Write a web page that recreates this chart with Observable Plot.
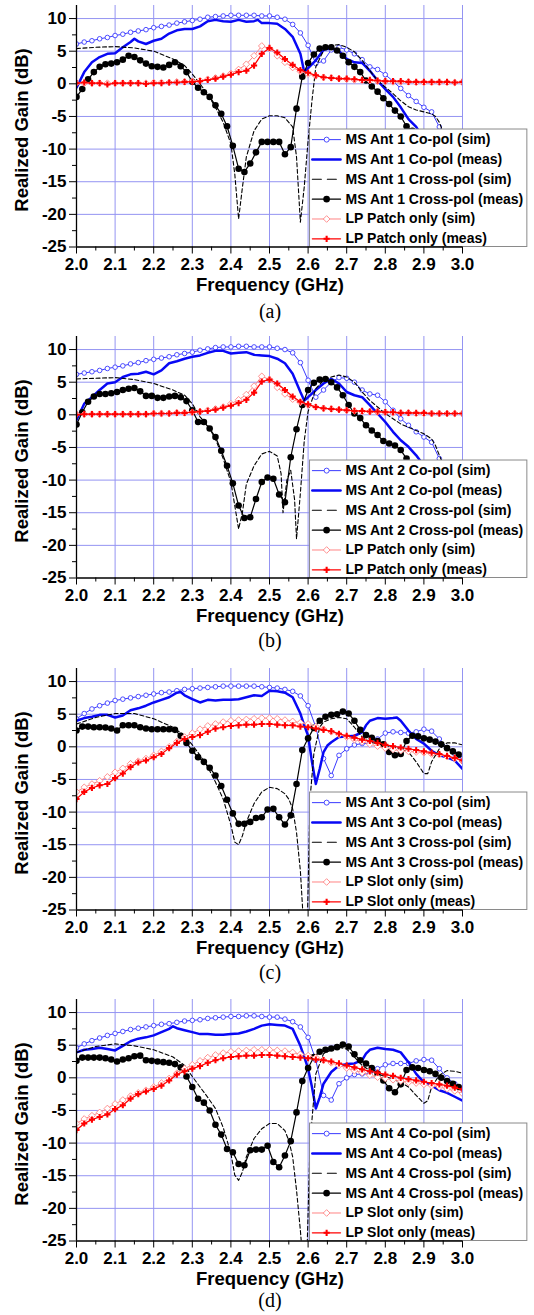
<!DOCTYPE html>
<html><head><meta charset="utf-8">
<script src="https://cdn.jsdelivr.net/npm/d3@7"></script>
<script src="https://cdn.jsdelivr.net/npm/@observablehq/plot@0.6"></script>
<style>
body{margin:0;background:#fff;}
#wrap{position:relative;width:534px;height:1315px;overflow:hidden;background:#fff;font-family:"Liberation Sans",Arial,sans-serif;}
.panel{position:absolute;left:0;}
.xt{position:absolute;font-weight:bold;font-size:18.5px;transform:translate(-50%,-50%);white-space:nowrap;color:#000;}
.yt{position:absolute;font-weight:bold;font-size:18.5px;transform:translate(-50%,-50%) rotate(-90deg);white-space:nowrap;color:#000;}
.cap{position:absolute;font-family:"Liberation Serif","Times New Roman",serif;font-size:20px;transform:translate(-50%,-50%);white-space:nowrap;color:#000;}
</style></head>
<body><div id="wrap"></div>
<script>
// ---------- axes / ticks ----------
const xTicks = [2.0,2.1,2.2,2.3,2.4,2.5,2.6,2.7,2.8,2.9,3.0];
const xMinor = [2.05,2.15,2.25,2.35,2.45,2.55,2.65,2.75,2.85,2.95];
const yTicks = [-25,-20,-15,-10,-5,0,5,10];
const yMinor = [-22.5,-17.5,-12.5,-7.5,-2.5,2.5,7.5];
const xGrid = [2.1,2.2,2.3,2.4,2.5,2.6,2.7,2.8,2.9,3.0];
const yGrid = [-20,-15,-10,-5,0,5,10];

// ---------- frequency grids (GHz) ----------
const F02 = [2.00,2.02,2.04,2.06,2.08,2.10,2.12,2.14,2.16,2.18,2.20,2.22,2.24,2.26,2.28,2.30,2.32,2.34,2.36,2.38,2.40,2.42,2.44,2.46,2.48,2.50,2.52,2.54,2.56,2.58,2.60,2.62,2.64,2.66,2.68,2.70,2.72,2.74,2.76,2.78,2.80,2.82,2.84,2.86,2.88,2.90,2.92,2.94,2.96,2.98,3.00];
const F15 = [2.000,2.015,2.030,2.045,2.060,2.075,2.090,2.105,2.120,2.135,2.150,2.165,2.180,2.195,2.210,2.225,2.240,2.255,2.270,2.285,2.300,2.315,2.330,2.345,2.360,2.375,2.390,2.405,2.420,2.435,2.450,2.465,2.480,2.495,2.510,2.525,2.540,2.555,2.570,2.585,2.600,2.615,2.630,2.645,2.660,2.675,2.690,2.705,2.720,2.735,2.750,2.765,2.780,2.795,2.810,2.825,2.840,2.855,2.870,2.885,2.900,2.915,2.930,2.945,2.960,2.975,2.990];

// ---------- panel (a) ----------
const a_labels = ["MS Ant 1 Co-pol (sim)","MS Ant 1 Co-pol (meas)","MS Ant 1 Cross-pol (sim)","MS Ant 1 Cross-pol (meas)","LP Patch only (sim)","LP Patch only (meas)"];
const a_coSim = [6.1,6.4,6.6,6.9,7.1,7.4,7.6,7.9,8.1,8.3,8.6,8.8,9.0,9.3,9.5,9.7,9.9,10.2,10.3,10.4,10.5,10.5,10.5,10.5,10.4,10.4,10.2,9.9,9.1,7.8,5.9,3.1,3.5,5.2,5.6,5.2,4.6,3.7,2.6,2.2,1.4,0.4,-0.7,-1.8,-2.7,-3.6,-4.3,-6.6,-10,-13,-15];
const a_coMeas = [[2.00,-0.6],[2.02,1.8],[2.04,3.3],[2.06,4.1],[2.08,4.6],[2.10,4.7],[2.12,5.6],[2.14,6.4],[2.15,6.9],[2.16,6.5],[2.18,6.1],[2.20,6.6],[2.22,6.9],[2.24,7.7],[2.26,8.2],[2.28,8.4],[2.30,8.4],[2.32,8.8],[2.34,9.6],[2.36,9.8],[2.38,9.6],[2.40,9.5],[2.42,9.8],[2.44,9.5],[2.46,9.6],[2.47,9.8],[2.48,9.3],[2.50,9.3],[2.52,9.2],[2.54,8.4],[2.56,7.2],[2.58,4.6],[2.59,1.8],[2.60,2.4],[2.62,3.6],[2.64,5.2],[2.66,5.5],[2.68,5.0],[2.70,3.8],[2.72,3.3],[2.74,3.2],[2.76,2.0],[2.78,0.5],[2.80,-0.8],[2.82,-2.0],[2.84,-3.6],[2.86,-5.4],[2.88,-6.6],[2.90,-8.5],[2.95,-12],[3.00,-15]];
const a_xpSim = [[2.00,5.4],[2.05,5.6],[2.10,5.7],[2.15,5.5],[2.20,5.0],[2.25,3.8],[2.28,2.8],[2.30,1.5],[2.32,0.0],[2.34,-1.6],[2.36,-3.6],[2.38,-5.9],[2.40,-9.2],[2.41,-13.8],[2.42,-20.7],[2.43,-15.8],[2.44,-11.2],[2.46,-7.2],[2.48,-5.4],[2.50,-4.9],[2.52,-4.9],[2.54,-5.2],[2.56,-6.6],[2.57,-11.2],[2.58,-21.2],[2.59,-15.8],[2.60,-8.7],[2.61,-2.6],[2.62,2.6],[2.64,5.1],[2.66,5.9],[2.68,6.0],[2.70,5.6],[2.72,4.9],[2.74,3.6],[2.76,2.0],[2.78,0.5],[2.80,-0.5],[2.82,-1.5],[2.84,-2.6],[2.86,-3.5],[2.88,-4.0],[2.90,-4.3],[2.92,-4.6],[2.93,-5.0],[2.94,-5.9],[2.96,-9],[3.00,-13]];
const a_xpMeas = [-2.0,-0.8,0.7,1.8,2.6,3.0,3.1,3.3,3.7,4.3,4.1,3.6,3.1,2.7,2.6,2.5,2.9,3.3,2.7,1.8,0.3,-0.6,-1.3,-2.0,-3.3,-4.6,-6.5,-9.5,-13.0,-13.5,-12.2,-10.5,-8.9,-8.9,-8.9,-8.9,-10.8,-9.7,-3.8,1.1,3.2,4.5,5.4,5.6,5.6,5.1,4.3,3.3,2.6,1.8,0.5,-0.4,-1.2,-2.2,-3.1,-4.1,-5.0,-6.5,-7.2,-8.5,-9.5,-10.5,-11.5,-12.3,-13.0,-13.7,-14.4];
const a_lpSim = [0.1,0.1,0.1,0.1,0.1,0.1,0.1,0.1,0.1,0.1,0.2,0.2,0.2,0.3,0.3,0.4,0.5,0.7,0.9,1.2,1.6,2.2,3.0,4.3,5.8,5.4,4.3,3.3,2.5,1.9,1.5,1.2,1.0,0.9,0.8,0.7,0.6,0.5,0.5,0.4,0.4,0.3,0.3,0.3,0.2,0.2,0.2,0.2,0.2,0.2,0.2];
const a_lpMeas = [0.1,0.2,0.1,0.1,-0.1,0.1,0.1,0.1,0.1,0.0,0.1,0.1,0.2,0.2,0.3,0.3,0.4,0.6,0.8,1.1,1.4,1.8,2.0,2.8,4.6,5.5,4.8,3.8,2.9,2.1,1.7,1.3,1.0,0.9,0.8,0.8,0.7,0.6,0.6,0.5,0.4,0.4,0.4,0.3,0.3,0.3,0.3,0.3,0.3,0.2,0.3];

// ---------- panel (b) ----------
const b_labels = ["MS Ant 2 Co-pol (sim)","MS Ant 2 Co-pol (meas)","MS Ant 2 Cross-pol (sim)","MS Ant 2 Cross-pol (meas)","LP Patch only (sim)","LP Patch only (meas)"];
const b_coSim = [6.2,6.4,6.6,6.8,7.1,7.3,7.5,7.8,8.0,8.3,8.5,8.7,8.9,9.2,9.4,9.6,9.9,10.1,10.3,10.4,10.4,10.5,10.5,10.4,10.4,10.4,10.2,10.0,9.5,8.0,5.3,2.7,3.8,5.0,5.7,5.6,5.0,3.8,3.2,3.0,2.0,0.7,-0.6,-1.6,-2.6,-3.4,-4.2,-6.7,-10,-12,-14];
const b_coMeas = [[2.00,-0.8],[2.02,1.7],[2.04,2.7],[2.06,3.8],[2.08,4.8],[2.10,5.0],[2.12,5.8],[2.14,6.2],[2.16,6.3],[2.18,6.6],[2.20,6.2],[2.22,6.8],[2.24,7.9],[2.26,8.2],[2.28,8.6],[2.30,8.9],[2.32,9.1],[2.34,9.5],[2.36,9.8],[2.38,9.8],[2.40,9.4],[2.42,9.5],[2.44,9.6],[2.46,9.2],[2.48,9.1],[2.50,9.0],[2.52,8.6],[2.54,7.9],[2.56,6.3],[2.58,3.5],[2.59,2.2],[2.60,2.7],[2.62,3.8],[2.64,4.8],[2.66,5.5],[2.68,4.8],[2.70,3.5],[2.72,3.0],[2.74,2.7],[2.76,1.5],[2.78,0.2],[2.80,-1.1],[2.82,-2.6],[2.84,-3.9],[2.86,-4.9],[2.88,-6.2],[2.90,-7.8],[2.95,-11],[3.00,-14]];
const b_xpSim = [[2.00,5.5],[2.05,5.6],[2.10,5.7],[2.15,5.4],[2.20,4.8],[2.25,3.8],[2.28,3.0],[2.30,1.7],[2.32,-0.3],[2.34,-1.6],[2.36,-3.7],[2.38,-6.7],[2.40,-10.3],[2.41,-13.9],[2.42,-17.5],[2.43,-14.9],[2.44,-10.6],[2.46,-7.8],[2.48,-6.0],[2.50,-5.6],[2.52,-6.3],[2.53,-9],[2.535,-15],[2.545,-10],[2.555,-8.5],[2.565,-13],[2.57,-19],[2.58,-12],[2.59,-4],[2.60,0.5],[2.62,4.0],[2.64,5.3],[2.66,5.8],[2.68,6.1],[2.70,5.8],[2.72,5.0],[2.74,3.5],[2.76,2.2],[2.78,1.2],[2.80,0.2],[2.82,-0.6],[2.84,-1.4],[2.86,-1.9],[2.88,-2.4],[2.90,-2.9],[2.92,-3.7],[2.93,-4.7],[2.94,-6.2],[2.96,-9],[3.00,-12]];
const b_xpMeas = [-1.5,0.4,2.0,2.8,3.2,3.2,3.3,3.5,3.8,4.0,4.1,3.6,2.9,2.9,2.6,2.6,2.8,2.9,2.7,2.1,0.7,-1.1,-1.1,-2.1,-3.4,-5.5,-7.8,-10.5,-13.9,-15.8,-15.7,-12.9,-10.3,-9.6,-9.8,-12.2,-13.4,-6.5,-2.2,1.5,3.8,4.9,5.4,5.5,5.0,4.2,3.0,1.5,0.2,-0.5,-1.6,-2.4,-3.1,-4.0,-4.4,-4.7,-5.4,-6.7,-8.0,-9.1,-10.2,-11.1,-12.0,-12.7,-13.5,-14.2,-14.8];
const b_lpSim = [0.1,0.1,0.1,0.1,0.1,0.1,0.1,0.1,0.1,0.1,0.2,0.2,0.2,0.3,0.3,0.4,0.5,0.7,0.9,1.2,1.7,2.3,3.1,4.4,5.9,5.4,4.2,3.2,2.4,1.9,1.5,1.2,1.0,0.9,0.8,0.7,0.6,0.5,0.5,0.4,0.4,0.3,0.3,0.3,0.2,0.2,0.2,0.2,0.2,0.2,0.2];
const b_lpMeas = [0.0,0.1,0.1,0.1,0.1,0.1,0.1,0.1,0.1,0.1,0.2,0.2,0.2,0.3,0.3,0.4,0.5,0.6,0.8,1.1,1.4,1.8,2.3,3.4,5.1,5.4,4.8,3.8,2.8,2.0,1.6,1.2,1.0,0.9,0.8,0.7,0.6,0.6,0.5,0.5,0.4,0.4,0.3,0.3,0.3,0.3,0.2,0.2,0.2,0.2,0.2];

// ---------- panel (c) ----------
const c_labels = ["MS Ant 3 Co-pol (sim)","MS Ant 3 Co-pol (meas)","MS Ant 3 Cross-pol (sim)","MS Ant 3 Cross-pol (meas)","LP Slot only (sim)","LP Slot only (meas)"];
const c_coSim = [4.3,5.1,5.8,6.3,6.7,7.1,7.3,7.5,7.7,7.9,8.1,8.3,8.4,8.6,8.8,8.9,9.0,9.1,9.2,9.3,9.3,9.3,9.3,9.3,9.2,9.1,9.0,8.8,8.5,7.8,6.3,3.0,-1.8,-4.4,-1.3,-0.3,0.3,0.5,0.5,1.2,2.1,2.3,2.2,2.1,2.3,2.7,2.4,1.2,-0.1,-1.1,-1.8];
const c_coMeas = [[2.00,4.0],[2.02,4.4],[2.04,4.6],[2.06,4.9],[2.08,4.9],[2.10,4.5],[2.12,4.8],[2.14,5.6],[2.16,5.9],[2.18,6.3],[2.20,6.8],[2.22,7.2],[2.24,7.6],[2.26,8.3],[2.27,8.4],[2.28,7.9],[2.30,7.3],[2.32,6.8],[2.34,7.2],[2.36,7.1],[2.38,7.2],[2.40,7.2],[2.42,7.3],[2.44,7.6],[2.46,7.9],[2.48,7.8],[2.50,8.6],[2.52,8.5],[2.54,8.3],[2.56,7.6],[2.58,5.1],[2.59,3.3],[2.60,1.7],[2.61,-2.3],[2.62,-5.7],[2.63,-3.4],[2.64,-0.8],[2.65,0.2],[2.66,0.7],[2.68,1.5],[2.70,1.6],[2.72,1.7],[2.74,2.2],[2.75,3.3],[2.76,4.0],[2.78,4.4],[2.80,4.3],[2.82,4.4],[2.83,4.5],[2.84,4.0],[2.86,2.5],[2.88,1.2],[2.90,0.5],[2.92,-0.6],[2.94,-1.3],[2.96,-1.6],[2.98,-2.1],[3.00,-3.4]];
const c_xpSim = [[2.00,3.5],[2.05,4.5],[2.10,5.1],[2.15,5.1],[2.20,4.3],[2.25,3.0],[2.28,1.7],[2.30,0.3],[2.32,-1.3],[2.34,-3.1],[2.36,-5.4],[2.38,-8.0],[2.40,-12.0],[2.41,-14.6],[2.42,-15.0],[2.43,-13.6],[2.44,-11.5],[2.46,-8.7],[2.48,-6.9],[2.50,-6.2],[2.52,-6.4],[2.54,-7.2],[2.55,-8.0],[2.56,-9.5],[2.57,-13.1],[2.58,-19],[2.588,-27],[2.598,-27],[2.605,-8],[2.615,-1],[2.63,3.0],[2.64,3.8],[2.66,4.3],[2.68,4.5],[2.70,4.3],[2.72,3.0],[2.74,1.5],[2.76,0.7],[2.78,0.5],[2.80,0.2],[2.82,0.0],[2.84,-0.3],[2.86,-0.8],[2.88,-2.3],[2.90,-4.1],[2.91,-4.1],[2.92,-2.3],[2.94,-0.3],[2.96,0.6],[2.98,0.6],[3.00,0.3]];
const c_xpMeas = [2.5,3.1,3.1,3.0,3.0,2.95,2.8,2.5,3.3,3.3,3.3,3.0,2.8,2.7,2.7,2.7,2.7,2.6,1.7,0.6,-0.6,-1.6,-2.3,-3.2,-4.4,-6.0,-8.1,-10.2,-11.8,-11.8,-11.5,-10.9,-10.8,-9.6,-9.5,-10.8,-11.9,-10.5,-5.7,-0.5,1.3,2.9,4.0,4.6,4.9,5.0,5.4,5.1,4.0,2.6,1.8,1.4,0.9,0.4,-0.8,-1.3,-1.1,0.9,1.7,1.6,1.3,1.1,0.8,0.4,-0.2,-0.7,-1.2];
const c_lpSim = [-6.9,-6.2,-5.7,-5.2,-4.6,-3.9,-3.3,-2.6,-2.2,-1.8,-1.3,-0.7,0.0,0.8,1.5,2.1,2.7,3.2,3.5,3.8,4.0,4.1,4.2,4.3,4.4,4.4,4.3,4.1,3.9,3.7,3.5,3.1,2.7,2.3,1.9,1.5,1.1,0.8,0.4,0.1,-0.2,-0.4,-0.6,-0.7,-0.8,-0.9,-1.1,-1.2,-1.5,-1.8,-2.2];
const c_lpMeas = [-8.0,-6.9,-6.3,-5.9,-5.7,-4.8,-4.1,-3.1,-2.4,-2.1,-1.6,-1.1,-0.2,0.6,1.2,1.5,1.8,2.3,2.8,3.0,3.2,3.3,3.4,3.4,3.5,3.5,3.4,3.3,3.3,3.1,3.0,2.8,2.6,2.4,2.0,1.7,1.4,1.1,0.9,0.6,0.3,0.1,-0.1,-0.3,-0.5,-0.7,-0.9,-1.1,-1.4,-1.7,-2.1];

// ---------- panel (d) ----------
const d_labels = ["MS Ant 4 Co-pol (sim)","MS Ant 4 Co-pol (meas)","MS Ant 4 Cross-pol (sim)","MS Ant 4 Cross-pol (meas)","LP Slot only (sim)","LP Slot only (meas)"];
const d_coSim = [4.6,5.2,5.7,6.1,6.5,6.8,7.1,7.4,7.6,7.8,8.0,8.2,8.3,8.5,8.7,8.8,8.9,9.1,9.2,9.3,9.4,9.4,9.5,9.5,9.4,9.3,9.3,9.0,8.6,7.8,6.2,2.7,-2.7,-3.4,-0.9,0.0,0.5,0.6,0.6,1.4,2.0,2.2,2.2,2.2,2.6,2.8,2.7,1.4,0.0,-0.9,-1.7];
const d_coMeas = [[2.00,3.9],[2.02,4.3],[2.04,4.4],[2.06,4.6],[2.08,4.4],[2.10,4.2],[2.12,4.9],[2.14,5.6],[2.16,6.0],[2.18,6.2],[2.20,6.5],[2.22,7.0],[2.24,7.5],[2.25,7.9],[2.26,7.6],[2.28,7.3],[2.30,7.0],[2.32,6.7],[2.34,6.7],[2.36,6.6],[2.38,6.6],[2.40,6.7],[2.42,6.8],[2.44,7.1],[2.46,7.5],[2.48,8.0],[2.50,8.2],[2.52,8.1],[2.54,8.0],[2.56,7.5],[2.58,4.9],[2.59,3.2],[2.60,1.4],[2.61,-1.4],[2.62,-4.7],[2.63,-3.0],[2.64,-0.9],[2.66,0.9],[2.68,1.9],[2.70,2.1],[2.72,2.2],[2.74,2.7],[2.75,3.7],[2.76,4.3],[2.78,4.6],[2.80,4.4],[2.82,4.3],[2.84,3.9],[2.86,2.4],[2.88,0.6],[2.90,-0.7],[2.92,-1.2],[2.94,-1.9],[2.96,-2.3],[2.98,-2.9],[3.00,-3.5]];
const d_xpSim = [[2.00,3.9],[2.05,4.8],[2.10,5.2],[2.15,4.9],[2.20,4.3],[2.25,3.2],[2.28,1.9],[2.30,0.2],[2.32,-1.4],[2.34,-3.0],[2.36,-4.7],[2.38,-7.6],[2.40,-11.6],[2.41,-14.9],[2.42,-15.7],[2.43,-14.4],[2.44,-12.1],[2.46,-9.3],[2.48,-7.8],[2.50,-7.0],[2.52,-7.0],[2.54,-8.1],[2.55,-9.6],[2.56,-12.1],[2.57,-17.2],[2.58,-23.4],[2.585,-27],[2.597,-27],[2.605,-10],[2.62,0.6],[2.64,3.7],[2.66,4.3],[2.68,4.7],[2.70,4.4],[2.72,3.2],[2.74,1.9],[2.76,1.1],[2.78,0.6],[2.80,0.2],[2.82,-0.2],[2.84,-0.7],[2.86,-1.4],[2.88,-2.7],[2.90,-3.9],[2.91,-3.5],[2.92,-1.4],[2.94,0.4],[2.96,1.1],[2.98,1.0],[3.00,0.7]];
const d_xpMeas = [2.6,3.1,3.1,3.1,3.1,3.0,2.8,2.5,2.8,3.0,3.3,3.4,2.7,2.6,2.5,2.4,2.3,2.1,1.6,0.2,-1.4,-3.2,-3.8,-5.0,-7.2,-8.7,-10.9,-11.4,-13.2,-13.4,-11.1,-11.0,-11.0,-10.4,-12.9,-13.7,-11.9,-9.7,-5.3,-0.5,1.5,3.2,4.0,4.3,4.5,4.7,5.1,4.8,3.6,2.7,2.2,1.5,0.6,-0.4,-1.6,-2.2,-1.0,1.2,1.6,1.5,1.2,1.0,0.6,0.0,-0.5,-0.9,-1.4];
const d_lpSim = [-7.0,-6.3,-5.8,-5.3,-4.7,-4.0,-3.4,-2.8,-2.3,-1.9,-1.4,-0.8,-0.1,0.7,1.4,2.0,2.6,3.1,3.5,3.8,4.0,4.1,4.2,4.3,4.3,4.3,4.2,4.1,3.9,3.6,3.4,3.1,2.7,2.3,1.9,1.5,1.1,0.8,0.4,0.1,-0.1,-0.3,-0.5,-0.7,-0.8,-1.0,-1.2,-1.4,-1.7,-2.0,-2.4];
const d_lpMeas = [-8.0,-7.0,-6.4,-6.0,-5.6,-4.8,-4.2,-3.2,-2.5,-2.1,-1.7,-1.2,-0.4,0.5,1.0,1.4,1.8,2.3,2.7,3.0,3.2,3.3,3.4,3.4,3.5,3.5,3.4,3.3,3.2,3.1,3.0,2.8,2.7,2.5,2.2,1.9,1.6,1.3,1.0,0.8,0.5,0.3,0.0,-0.2,-0.4,-0.6,-0.8,-1.0,-1.2,-1.5,-1.8];

const captions = ["(a)","(b)","(c)","(d)"];

// ---------- styling / layout ----------
const C = {coSim:"#3a3aff", coMeas:"#0808f5", lpSim:"#ff8484", lpMeas:"#ff0000", grid:"#9494f2"};
const FONT = '"Liberation Sans", Arial, sans-serif';
const TOPS = [0, 331, 663, 994];
const CAPY = [311, 309, 309, 306];
const LEG = {x1:2.605, x2:3.168, y1:-25, y2:-7, sx1:2.611, sx2:2.684, mx:2.648, tx:2.697, row0:-8.55, step:3.04};

const panels = [
  {labels:a_labels, coSim:a_coSim, coMeas:a_coMeas, xpSim:a_xpSim, xpMeas:a_xpMeas, lpSim:a_lpSim, lpMeas:a_lpMeas},
  {labels:b_labels, coSim:b_coSim, coMeas:b_coMeas, xpSim:b_xpSim, xpMeas:b_xpMeas, lpSim:b_lpSim, lpMeas:b_lpMeas},
  {labels:c_labels, coSim:c_coSim, coMeas:c_coMeas, xpSim:c_xpSim, xpMeas:c_xpMeas, lpSim:c_lpSim, lpMeas:c_lpMeas},
  {labels:d_labels, coSim:d_coSim, coMeas:d_coMeas, xpSim:d_xpSim, xpMeas:d_xpMeas, lpSim:d_lpSim, lpMeas:d_lpMeas}
];

const rowStyles = [
  {stroke:C.coSim, sw:1, dash:null, sym:"circle", r:2.5, fill:"white", mstroke:C.coSim},
  {stroke:C.coMeas, sw:2.6, dash:null, sym:null},
  {stroke:"black", sw:1.1, dash:"9,6", sym:null},
  {stroke:"black", sw:1.2, dash:null, sym:"circle", r:3.3, fill:"black", mstroke:"none"},
  {stroke:C.lpSim, sw:1, dash:null, sym:"diamond2", r:3, fill:"white", mstroke:C.lpSim},
  {stroke:C.lpMeas, sw:1.2, dash:null, sym:"cross", r:2.6, fill:C.lpMeas, mstroke:"none"}
];

function drawPanel(P) {
  const toObj = (fs, gs) => fs.map((f, i) => ({f, g: gs[i]}));
  const fromPairs = ps => ps.map(([f, g]) => ({f, g}));
  const coSim = toObj(F02, P.coSim), coMeas = fromPairs(P.coMeas), xpSim = fromPairs(P.xpSim);
  const xpMeas = toObj(F15, P.xpMeas), lpSim = toObj(F02, P.lpSim), lpMeas = toObj(F02, P.lpMeas);
  const xy = {x: "f", y: "g", clip: true};

  const legendMarks = [
    Plot.rect([LEG], {x1:"x1", x2:"x2", y1:"y1", y2:"y2", fill:"white", stroke:"#8a8a8a", strokeWidth:1})
  ];
  rowStyles.forEach((s, i) => {
    const y = LEG.row0 - i * LEG.step;
    legendMarks.push(Plot.line([{f:LEG.sx1, g:y}, {f:LEG.sx2, g:y}], {x:"f", y:"g", stroke:s.stroke, strokeWidth:s.sw, strokeDasharray:s.dash || undefined}));
    if (s.sym) legendMarks.push(Plot.dot([{f:LEG.mx, g:y}], {x:"f", y:"g", symbol:s.sym, r:s.r, fill:s.fill, stroke:s.mstroke, strokeWidth:0.9}));
    legendMarks.push(Plot.text([{f:LEG.tx, g:y, t:P.labels[i]}], {x:"f", y:"g", text:"t", textAnchor:"start", fontSize:14, fontWeight:"bold", fill:"black"}));
  });

  return Plot.plot({
    width: 534, height: 300,
    marginLeft: 76, marginRight: 72, marginTop: 5, marginBottom: 53.5,
    x: {domain: [2, 3]},
    y: {domain: [-25, 12]},
    style: {fontFamily: FONT, fontSize: "17px", fontWeight: "bold", background: "white", color: "black", overflow: "visible"},
    marks: [
      Plot.ruleX(xGrid, {stroke: C.grid, strokeWidth: 1}),
      Plot.ruleY(yGrid, {stroke: C.grid, strokeWidth: 1}),
      Plot.line(coSim, {...xy, stroke: C.coSim, strokeWidth: 1}),
      Plot.dot(coSim, {...xy, r: 2.3, stroke: C.coSim, strokeWidth: 0.9, fill: "white"}),
      Plot.line(coMeas, {...xy, stroke: C.coMeas, strokeWidth: 2.5}),
      Plot.line(xpSim, {...xy, stroke: "black", strokeWidth: 1.1, strokeDasharray: "4,2.5"}),
      Plot.line(xpMeas, {...xy, stroke: "black", strokeWidth: 1.2}),
      Plot.dot(xpMeas, {...xy, r: 3.3, fill: "black"}),
      Plot.line(lpSim, {...xy, stroke: C.lpSim, strokeWidth: 1}),
      Plot.dot(lpSim, {...xy, symbol: "diamond2", r: 3, stroke: C.lpSim, strokeWidth: 0.9, fill: "white"}),
      Plot.line(lpMeas, {...xy, stroke: C.lpMeas, strokeWidth: 1.2}),
      Plot.dot(lpMeas, {...xy, symbol: "cross", r: 2.6, fill: C.lpMeas}),
      ...legendMarks,
      Plot.ruleX([2], {stroke: "black", strokeWidth: 1.3}),
      Plot.ruleY([-25], {stroke: "black", strokeWidth: 1.3}),
      Plot.axisX(xTicks, {tickSize: 7, tickPadding: 4, tickFormat: d => d.toFixed(1), label: null}),
      Plot.axisX(xMinor, {tickSize: 4, tickFormat: () => "", label: null}),
      Plot.axisY(yTicks, {tickSize: 7, tickPadding: 3, tickFormat: d => String(d), label: null}),
      Plot.axisY(yMinor, {tickSize: 4, tickFormat: () => "", label: null})
    ]
  });
}

const wrap = document.getElementById("wrap");
panels.forEach((P, k) => {
  const T = TOPS[k];
  const svg = drawPanel(P);
  const holder = document.createElement("div");
  holder.className = "panel";
  holder.style.top = T + "px";
  holder.appendChild(svg);
  wrap.appendChild(holder);

  const xt = document.createElement("div");
  xt.className = "xt"; xt.textContent = "Frequency (GHz)";
  xt.style.left = "270px"; xt.style.top = (T + 285) + "px";
  wrap.appendChild(xt);

  const yt = document.createElement("div");
  yt.className = "yt"; yt.textContent = "Realized Gain (dB)";
  yt.style.left = "22px"; yt.style.top = (T + 130) + "px";
  wrap.appendChild(yt);

  const cap = document.createElement("div");
  cap.className = "cap"; cap.textContent = captions[k];
  cap.style.left = "270px"; cap.style.top = (T + CAPY[k]) + "px";
  wrap.appendChild(cap);
});
</script>
</body></html>
